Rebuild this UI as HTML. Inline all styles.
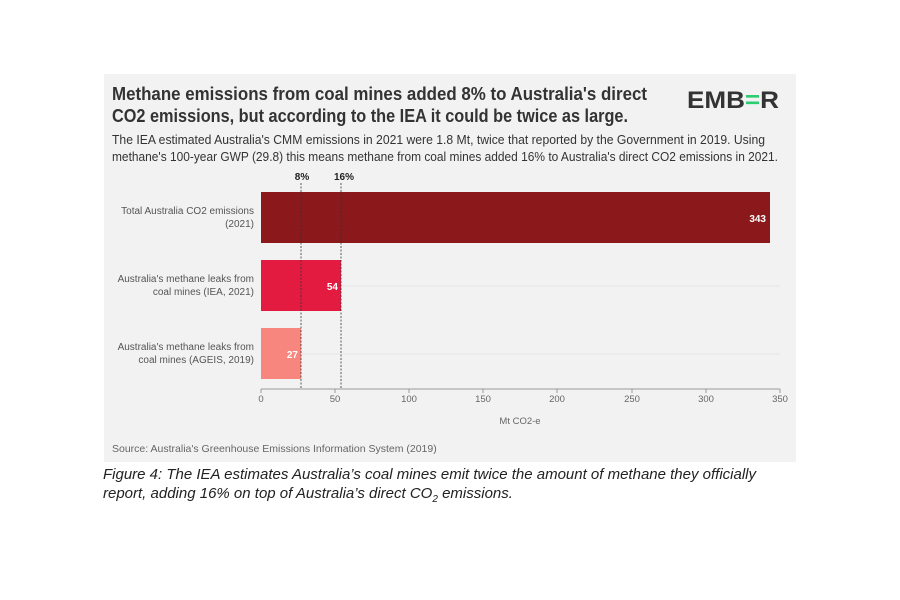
<!DOCTYPE html>
<html><head><meta charset="utf-8"><style>body{margin:0;background:#fff;}svg{display:block}</style></head><body>
<svg width="900" height="600" xmlns="http://www.w3.org/2000/svg" font-family="Liberation Sans, sans-serif">
<rect x="0" y="0" width="900" height="600" fill="#fff"/>
<rect x="104" y="74" width="692" height="388" fill="#f2f2f2"/>
<text x="112" y="100" font-size="18.5" font-weight="bold" fill="#333" textLength="535" lengthAdjust="spacingAndGlyphs">Methane emissions from coal mines added 8% to Australia's direct</text>
<text x="112" y="122" font-size="18.5" font-weight="bold" fill="#333" textLength="516" lengthAdjust="spacingAndGlyphs">CO2 emissions, but according to the IEA it could be twice as large.</text>
<text x="687" y="108" font-size="24" font-weight="bold" fill="#333" textLength="92" lengthAdjust="spacingAndGlyphs">EMB<tspan fill="#2ecc71">=</tspan>R</text>
<text x="112" y="144" font-size="12.5" fill="#333" textLength="653" lengthAdjust="spacingAndGlyphs">The IEA estimated Australia's CMM emissions in 2021 were 1.8 Mt, twice that reported by the Government in 2019. Using</text>
<text x="112" y="161" font-size="12.5" fill="#333" textLength="666" lengthAdjust="spacingAndGlyphs">methane's 100-year GWP (29.8) this means methane from coal mines added 16% to Australia's direct CO2 emissions in 2021.</text>
<line x1="261" y1="286" x2="780" y2="286" stroke="#e4e4e4"/>
<line x1="261" y1="354" x2="780" y2="354" stroke="#e4e4e4"/>
<rect x="261" y="192" width="509" height="51" fill="#8b181b"/>
<rect x="261" y="260" width="80" height="51" fill="#e31b41"/>
<rect x="261" y="328" width="40" height="51" fill="#f6867e"/>
<text x="766" y="222" font-size="10" font-weight="bold" fill="#fff" text-anchor="end">343</text>
<text x="338" y="290" font-size="10" font-weight="bold" fill="#fff" text-anchor="end">54</text>
<text x="298" y="358" font-size="10" font-weight="bold" fill="#fff" text-anchor="end">27</text>
<line x1="301" y1="183" x2="301" y2="389" stroke="#333" stroke-dasharray="2,1.5" stroke-width="0.8"/>
<line x1="341" y1="183" x2="341" y2="389" stroke="#333" stroke-dasharray="2,1.5" stroke-width="0.8"/>
<text x="302" y="180" font-size="10" font-weight="bold" fill="#222" text-anchor="middle">8%</text>
<text x="344" y="180" font-size="10" font-weight="bold" fill="#222" text-anchor="middle">16%</text>
<g font-size="10" fill="#555" text-anchor="end">
<text x="254" y="214">Total Australia CO2 emissions</text>
<text x="254" y="227">(2021)</text>
<text x="254" y="282">Australia's methane leaks from</text>
<text x="254" y="295">coal mines (IEA, 2021)</text>
<text x="254" y="350">Australia's methane leaks from</text>
<text x="254" y="363">coal mines (AGEIS, 2019)</text>
</g>
<line x1="261" y1="389" x2="780" y2="389" stroke="#999"/>
<g stroke="#999"><line x1="261" y1="389" x2="261" y2="393"/><line x1="335" y1="389" x2="335" y2="393"/><line x1="409" y1="389" x2="409" y2="393"/><line x1="483" y1="389" x2="483" y2="393"/><line x1="557" y1="389" x2="557" y2="393"/><line x1="632" y1="389" x2="632" y2="393"/><line x1="706" y1="389" x2="706" y2="393"/><line x1="780" y1="389" x2="780" y2="393"/></g>
<g font-size="9.5" fill="#666" text-anchor="middle">
<text x="261" y="402">0</text><text x="335" y="402">50</text><text x="409" y="402">100</text><text x="483" y="402">150</text><text x="557" y="402">200</text><text x="632" y="402">250</text><text x="706" y="402">300</text><text x="780" y="402">350</text>
<text x="520" y="424">Mt CO2-e</text>
</g>
<text x="112" y="452" font-size="10.5" fill="#666">Source: Australia's Greenhouse Emissions Information System (2019)</text>
<text x="103" y="479" font-size="15" font-style="italic" fill="#222" textLength="653" lengthAdjust="spacingAndGlyphs">Figure 4: The IEA estimates Australia’s coal mines emit twice the amount of methane they officially</text>
<text x="103" y="498" font-size="15" font-style="italic" fill="#222">report, adding 16% on top of Australia’s direct CO<tspan font-size="10" dy="4">2</tspan><tspan dy="-4"> emissions.</tspan></text>
</svg>
</body></html>
